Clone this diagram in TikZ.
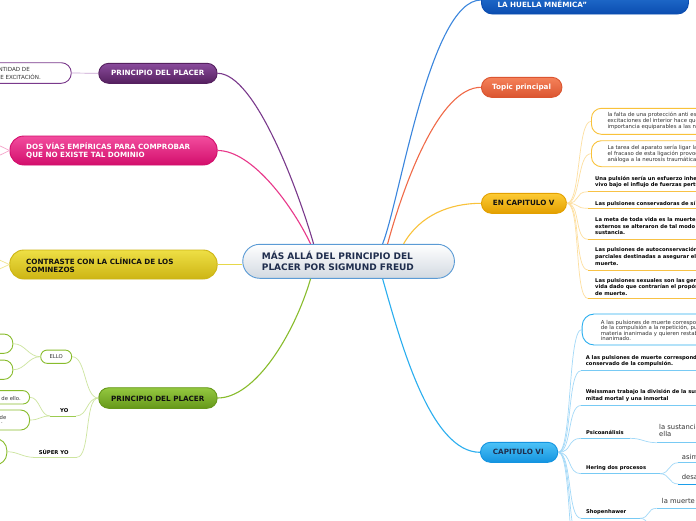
\documentclass[tikz,border=0pt]{standalone}
\usepackage{fontspec}
\setmainfont{DejaVu Sans}
\begin{document}
\definecolor{purA}{HTML}{8A4C9C}\definecolor{purB}{HTML}{55205F}\definecolor{purL}{HTML}{7A3A8C}\definecolor{purF}{HTML}{C9A3D2}
\definecolor{pinA}{HTML}{F24D9E}\definecolor{pinB}{HTML}{D30E6C}\definecolor{pinL}{HTML}{E8388A}\definecolor{pinF}{HTML}{F5A3C9}
\definecolor{yelA}{HTML}{EEDF45}\definecolor{yelB}{HTML}{CDB514}\definecolor{yelL}{HTML}{E6D84A}\definecolor{yelF}{HTML}{F0E690}
\definecolor{grnA}{HTML}{94C840}\definecolor{grnB}{HTML}{66981A}\definecolor{grnL}{HTML}{88BC2C}\definecolor{grnF}{HTML}{CDE59F}\definecolor{grnU}{HTML}{9CCB50}
\definecolor{bluA}{HTML}{2C7DDB}\definecolor{bluB}{HTML}{0B4DB0}\definecolor{bluL}{HTML}{3B86DD}
\definecolor{oraA}{HTML}{F5825A}\definecolor{oraB}{HTML}{DB5530}\definecolor{oraL}{HTML}{F06A48}
\definecolor{golA}{HTML}{FDCB35}\definecolor{golB}{HTML}{E3A000}\definecolor{golL}{HTML}{F9C23A}\definecolor{golF}{HTML}{FDDFA0}\definecolor{golU}{HTML}{F8C245}
\definecolor{cyaA}{HTML}{4CC2F7}\definecolor{cyaB}{HTML}{1494E0}\definecolor{cyaL}{HTML}{2AAEEF}\definecolor{cyaF}{HTML}{A3D9F8}\definecolor{cyaU}{HTML}{78CAF4}\definecolor{cyaD}{HTML}{1C9EEA}
\definecolor{cenB}{HTML}{D2D9E1}\definecolor{cenL}{HTML}{5B9BD5}\definecolor{cenT}{HTML}{1F2D4D}
\definecolor{txtgray}{HTML}{333333}\definecolor{darkT}{HTML}{111111}
\begin{tikzpicture}[x=1pt,y=-1pt,
  box/.style={rectangle, inner sep=0pt, line width=0.9pt},
  maintxt/.style={anchor=west, inner sep=0pt, align=left, font=\fontsize{7.2}{8.3}\selectfont\bfseries},
  bigtxt/.style={anchor=west, inner sep=0pt, align=left, font=\fontsize{9}{10.3}\selectfont\bfseries},
  smallb/.style={anchor=north west, inner sep=0pt, align=left, font=\fontsize{5.2}{6.6}\selectfont\bfseries, text=black},
  smallr/.style={anchor=north west, inner sep=0pt, align=left, font=\fontsize{5.4}{5.9}\selectfont, text=txtgray},
  midr/.style={anchor=north west, inner sep=0pt, align=left, font=\fontsize{6.8}{7.7}\selectfont, text=txtgray},
  tinyr/.style={inner sep=0pt, font=\fontsize{5.3}{6}\selectfont, text=txtgray},
  tinyb/.style={inner sep=0pt, font=\fontsize{5.3}{6}\selectfont\bfseries, text=black},
  mainline/.style={line width=1.1pt},
  fan/.style={line width=0.7pt},
  uline/.style={line width=0.8pt}]
\useasboundingbox (0,0) rectangle (696,520);
\fill[white] (0,0) rectangle (696,520);
\clip (0,0) rectangle (696,520);

% ---------- main nodes ----------
\node[box, draw=cenL, top color=white, bottom color=cenB, rounded corners=17pt, minimum width=211.7pt, minimum height=34pt, anchor=west] (cen) at (242.3,261.3) {};
\node[bigtxt, text=cenT] (cent) at (261.7,261) {MÁS ALLÁ DEL PRINCIPIO DEL\\PLACER POR SIGMUND FREUD};

\node[box, draw=bluB, top color=bluA, bottom color=bluB, rounded corners=11pt, minimum width=207pt, minimum height=28pt, anchor=west] (blu) at (481,0) {};
\node[maintxt, text=white] (blut) at (497.3,4.6) {LA HUELLA MNÉMICA{\char34}};

\node[box, draw=oraB, top color=oraA, bottom color=oraB, rounded corners=10pt, minimum width=80.5pt, minimum height=20pt, anchor=west] (ora) at (481,87.3) {};
\node[maintxt, text=white] (orat) at (492,87.3) {Topic principal};

\node[box, draw=golB, top color=golA, bottom color=golB, rounded corners=10pt, minimum width=85pt, minimum height=20pt, anchor=west] (gol) at (481,203.3) {};
\node[maintxt, text=darkT] (golt) at (492.7,203.3) {EN CAPITULO V};

\node[box, draw=cyaB, top color=cyaA, bottom color=cyaB, rounded corners=10pt, minimum width=77.3pt, minimum height=20pt, anchor=west] (cya) at (480,452.3) {};
\node[maintxt, text=cenT] (cyat) at (492.7,452.3) {CAPITULO VI};

\node[box, draw=purB, top color=purA, bottom color=purB, rounded corners=10pt, minimum width=118.4pt, minimum height=20pt, anchor=west] (pur) at (98.3,73.3) {};
\node[maintxt, text=white] (purt) at (111,73.3) {PRINCIPIO DEL PLACER};

\node[box, draw=pinB, top color=pinA, bottom color=pinB, rounded corners=14pt, minimum width=207.2pt, minimum height=29pt, anchor=west] (pin) at (9.5,150.5) {};
\node[maintxt, text=white] (pint) at (26,150.8) {DOS VÍAS EMPÍRICAS PARA COMPROBAR\\QUE NO EXISTE TAL DOMINIO};

\node[box, draw=yelB, top color=yelA, bottom color=yelB, rounded corners=14pt, minimum width=207.4pt, minimum height=29pt, anchor=west] (yel) at (9.3,264.5) {};
\node[maintxt, text=darkT] (yelt) at (26,265) {CONTRASTE CON LA CLÍNICA DE LOS\\COMINEZOS};

\node[box, draw=grnB, top color=grnA, bottom color=grnB, rounded corners=10pt, minimum width=118.4pt, minimum height=20.6pt, anchor=west] (grn) at (98.3,398) {};
\node[maintxt, text=darkT] (grnt) at (111,398.5) {PRINCIPIO DEL PLACER};

% ---------- main connectors ----------
\draw[mainline, purL] ([xshift=-35pt]cen.north) .. controls (298,190) and (255,73.3) .. (pur.east);
\draw[mainline, pinL] ([xshift=-38pt]cen.north) .. controls (292,205) and (252,150.5) .. (pin.east);
\draw[mainline, yelL] (yel.east) -- (yel.east -| cen.west);
\draw[mainline, grnL] ([xshift=-38pt]cen.south) .. controls (294,335) and (255,398) .. (grn.east);
\draw[mainline, bluL] ([xshift=34pt]cen.north) .. controls (400,200) and (430,0) .. (blu.west);
\draw[mainline, oraL] ([xshift=39pt]cen.north) .. controls (405,180) and (440,87.3) .. (ora.west);
\draw[mainline, golL] ([xshift=55pt]cen.north) .. controls (420,215) and (450,203.3) .. (gol.west);
\draw[mainline, cyaL] ([xshift=34pt]cen.south) .. controls (400,340) and (430,452.3) .. (cya.west);

% ---------- purple child ----------
\node[box, draw=purL, fill=white, rounded corners=10pt, minimum width=110pt, minimum height=20.6pt, anchor=east] (pc) at (71.7,73) {};
\node[tinyr, font=\fontsize{5.6}{6}\selectfont, anchor=east] (pct1) at (30,69.3) {CANTIDAD DE};
\node[tinyr, font=\fontsize{5.6}{6}\selectfont, anchor=east] (pct2) at (41,76.9) {DE EXCITACIÓN.};
\draw[fan, purF] (pc.east) -- (pur.west);

% ---------- pink / yellow left stubs ----------
\coordinate (pk1) at (-6,143); \coordinate (pk2) at (-6,158);
\draw[fan, pinF] (pin.west) -- (pk1); \draw[fan, pinF] (pin.west) -- (pk2);
\coordinate (yl1) at (-6,257.5); \coordinate (yl2) at (-6,271.5);
\draw[fan, yelF] (yel.west) -- (yl1); \draw[fan, yelF] (yel.west) -- (yl2);

% ---------- gold children ----------
\node[box, draw=golL, fill=white, rounded corners=10pt, minimum width=150pt, minimum height=26pt, anchor=west] (ga) at (591,121.3) {};
\node[smallr] (gat) at (607.3,112.2) {la falta de una protección anti estímulo frente a las\\excitaciones del interior hace que éstas adquieran una\\importancia equiparables a las neurosis traumáticas.};
\node[box, draw=golL, fill=white, rounded corners=10pt, minimum width=150pt, minimum height=26pt, anchor=west] (gb) at (591,153.7) {};
\node[smallr] (gbt) at (607.3,144.8) {La tarea del aparato sería ligar la excitación;\\el fracaso de esta ligación provocaría una perturbación\\análoga a la neurosis traumática.};
\node[smallb] (gc) at (595,176) {Una pulsión sería un esfuerzo inherente a lo orgánico\\vivo bajo el influjo de fuerzas perturbadoras externas};
\node[smallb] (gd) at (595,200.8) {Las pulsiones conservadoras de sí mismas};
\node[smallb] (ge) at (595,217.5) {La meta de toda vida es la muerte; los influjos\\externos se alteraron de tal modo que obligaron a la\\sustancia.};
\node[smallb] (gf) at (595,247.5) {Las pulsiones de autoconservación son pulsiones\\parciales destinadas a asegurar el camino propio a la\\muerte.};
\node[smallb] (gg) at (595,278.2) {Las pulsiones sexuales son las genuinas pulsiones de\\vida dado que contrarían el propósito de las pulsiones\\de muerte.};
\coordinate (gcu) at (588,191.7); \coordinate (gdu) at (588,208.3); \coordinate (geu) at (588,239.3);
\coordinate (gfu) at (588,270); \coordinate (ggu) at (588,298.5);
\foreach \t in {ga.west,gb.west,gcu,gdu,geu,gfu,ggu}
  \draw[fan, golF] (gol.east) .. controls +(14,0) and +(-14,0) .. (\t);
\foreach \t in {gcu,gdu,geu,gfu,ggu}
  \draw[uline, golU] (\t) -- ++(120,0);

% ---------- cyan children ----------
\node[box, draw=cyaL, fill=white, rounded corners=12pt, minimum width=150pt, minimum height=31pt, anchor=west] (ca) at (581.7,329.5) {};
\node[smallr, font=\fontsize{5.4}{5.5}\selectfont] (cat) at (600.7,319.8) {A las pulsiones de muerte corresponde el carácter\\de la compulsión a la repetición, pues provienen de la\\materia inanimada y quieren restablecer el estado\\inanimado.};
\node[smallb] (cb) at (585.7,354.8) {A las pulsiones de muerte corresponde el carácter\\conservado de la compulsión.};
\node[smallb] (cc) at (585.7,389.2) {Weissman trabajo la división de la sustancia viva en una\\mitad mortal y una inmortal};
\node[smallb] (cd) at (586,429.8) {Psicoanálisis};
\node[smallb] (ce) at (586,465.8) {Hering dos procesos};
\node[smallb] (cf) at (586,509.8) {Shopenhawer};
\coordinate (cbu) at (581,370.7); \coordinate (ccu) at (581,405.5); \coordinate (cdu) at (581,438.3);
\coordinate (ceu) at (581,473.7); \coordinate (cfu) at (581,518.3);
\coordinate (cgu) at (581,545); \coordinate (chu) at (581,580);
\foreach \t in {ca.west,cbu,ccu,cdu,ceu,cfu,cgu,chu}
  \draw[fan, cyaF] (cya.east) .. controls +(14,0) and +(-14,0) .. (\t);
\draw[uline, cyaU] (cbu) -- ++(130,0);
\draw[uline, cyaU] (ccu) -- ++(130,0);
\coordinate (cde) at (630,438.3); \draw[uline, cyaU] (cdu) -- (cde);
\coordinate (cee) at (660,473.7); \draw[uline, cyaU] (ceu) -- (cee);
\coordinate (cfe) at (640,518.3); \draw[uline, cyaU] (cfu) -- (cfe);

\node[midr] (cd1) at (659,423.9) {la sustancia viva\\ella};
\coordinate (cd1u) at (656.7,442.7);
\draw[fan, cyaF] (cde) .. controls +(12,0) and +(-12,0) .. (cd1u);
\draw[uline, cyaU] (cd1u) -- ++(60,0);

\node[midr] (ce1) at (681.7,453.9) {asimilación};
\node[midr] (ce2) at (681.7,473.9) {desasimilación};
\coordinate (ce1u) at (678.3,462.7); \coordinate (ce2u) at (678.3,484);
\draw[fan, cyaF] (cee) .. controls +(10,0) and +(-10,0) .. (ce1u);
\draw[fan, cyaF] (cee) .. controls +(10,0) and +(-10,0) .. (ce2u);
\draw[uline, cyaU] (ce1u) -- ++(40,0);
\draw[uline, cyaD] (ce2u) -- ++(40,0);

\node[midr] (cf1) at (661.7,498.3) {la muerte es el final};
\coordinate (cf1u) at (656.7,508.3); \coordinate (cf2u) at (656.7,532);
\draw[fan, cyaF] (cfe) .. controls +(10,0) and +(-10,0) .. (cf1u);
\draw[fan, cyaF] (cfe) .. controls +(10,0) and +(-10,0) .. (cf2u);
\draw[uline, cyaU] (cf1u) -- ++(60,0);

% ---------- green children ----------
\node[box, draw=grnL, fill=white, rounded corners=6.5pt, minimum width=31pt, minimum height=13.3pt] (ello) at (56.2,356.7) {};
\node[tinyr] (ellot) at (56.2,356.7) {ELLO};
\node[box, draw=grnL, fill=white, rounded corners=9pt, minimum width=60pt, minimum height=19.3pt, anchor=east] (e1) at (13.3,343.7) {};
\node[box, draw=grnL, fill=white, rounded corners=9pt, minimum width=60pt, minimum height=19.3pt, anchor=east] (e2) at (13.3,369.7) {};
\draw[fan, grnF] (ello.west) .. controls +(-12,0) and +(12,0) .. (e1.east);
\draw[fan, grnF] (ello.west) .. controls +(-12,0) and +(12,0) .. (e2.east);

\node[tinyb] (yo) at (64.3,410.3) {YO};
\coordinate (yol) at (50,416); \coordinate (yor) at (76,416);
\draw[uline, grnU] (yol) -- (yor);
\node[box, draw=grnL, fill=white, rounded corners=6.5pt, minimum width=70pt, minimum height=13.3pt, anchor=east] (y1) at (30,397.3) {};
\node[tinyr, anchor=east] (y1t) at (21,398.3) {de ello.};
\node[box, draw=grnL, fill=white, rounded corners=9pt, minimum width=70pt, minimum height=20pt, anchor=east] (y2) at (30,420) {};
\node[tinyr, anchor=east] (y2t) at (6.5,417.5) {de};
\node[tinyr, anchor=east] (y2t2) at (3,423.3) {.};
\draw[fan, grnF] (yol) .. controls +(-10,0) and +(10,0) .. (y1.east);
\draw[fan, grnF] (yol) .. controls +(-10,0) and +(10,0) .. (y2.east);

\node[tinyb] (sy) at (53.7,452) {SÚPER YO};
\coordinate (syl) at (33.3,457.3); \coordinate (syr) at (76.7,457.3);
\draw[uline, grnF] (syl) -- (syr);
\node[box, draw=grnL, fill=white, rounded corners=12pt, minimum width=60pt, minimum height=26.7pt, anchor=east] (s1) at (7.3,451.7) {};
\draw[fan, grnF] (syl) .. controls +(-10,0) and +(10,0) .. (s1.east);

\draw[fan, grnF] (grn.west) .. controls +(-14,0) and +(14,0) .. (ello.east);
\draw[fan, grnF] (grn.west) .. controls +(-12,0) and +(12,0) .. (yor);
\draw[fan, grnF] (grn.west) .. controls +(-14,0) and +(14,0) .. (syr);
\end{tikzpicture}
\end{document}
